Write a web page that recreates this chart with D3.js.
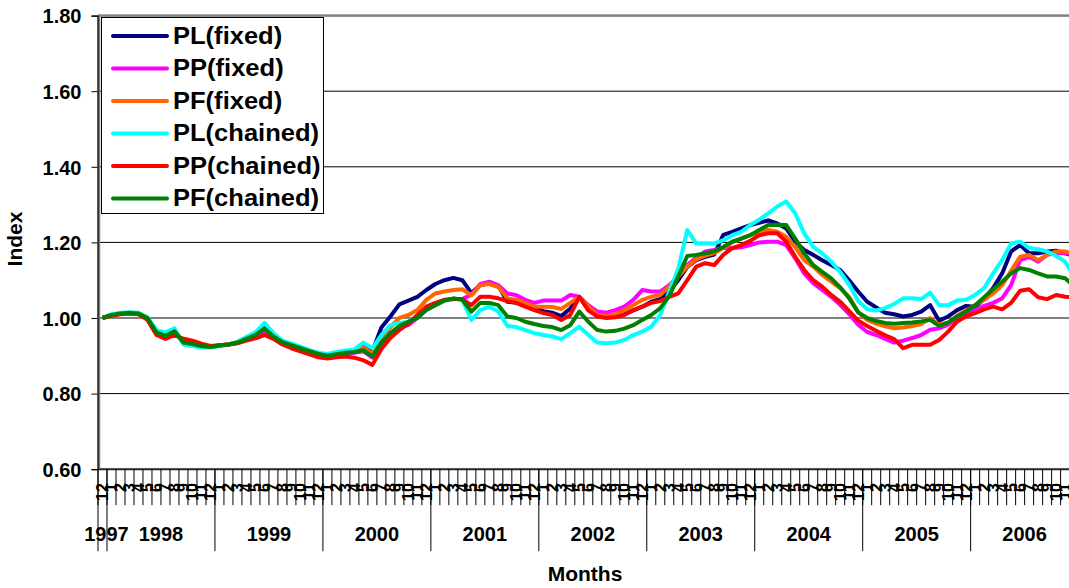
<!DOCTYPE html>
<html>
<head>
<meta charset="utf-8">
<script src="https://cdn.jsdelivr.net/npm/d3@7/dist/d3.min.js"></script>
<style>
  html, body { margin: 0; padding: 0; background: #fff; overflow: hidden; }
  svg { display: block; }
  text { font-family: "Liberation Sans", Arial, sans-serif; font-weight: bold; fill: #000; }
</style>
</head>
<body>
<svg id="chart" width="1069" height="588"></svg>
<script>
// Monthly price indices, Dec 1997 – Dec 2006 (base Dec 1997 = 1.00)
const years = ["1997", "1998", "1999", "2000", "2001", "2002", "2003", "2004", "2005", "2006"];
const yTicks = [0.60, 0.80, 1.00, 1.20, 1.40, 1.60, 1.80];
const seriesNames = ["PL(fixed)", "PP(fixed)", "PF(fixed)", "PL(chained)", "PP(chained)", "PF(chained)"];
const seriesColors = ["#000080", "#FF00FF", "#FF6600", "#00FFFF", "#FF0000", "#008000"];

const plFixed = [1.000, 1.008, 1.012, 1.014, 1.012, 0.998, 0.962, 0.958, 0.968, 0.933, 0.930, 0.926, 0.923,
  0.927, 0.930, 0.935, 0.946, 0.957, 0.975, 0.952, 0.937, 0.928, 0.920, 0.912, 0.905,
  0.902, 0.907, 0.912, 0.915, 0.930, 0.912, 0.975, 1.004, 1.036, 1.046, 1.056, 1.074,
  1.090, 1.100, 1.106, 1.100, 1.066, 1.087, 1.092, 1.085, 1.043, 1.040, 1.032, 1.026,
  1.018, 1.014, 1.005, 1.025, 1.056, 1.030, 1.006, 1.002, 1.003, 1.010, 1.020, 1.030,
  1.043, 1.050, 1.070, 1.100, 1.135, 1.153, 1.162, 1.168, 1.220, 1.228, 1.237, 1.246,
  1.252, 1.258, 1.250, 1.237, 1.202, 1.180, 1.167, 1.153, 1.140, 1.127, 1.100, 1.070,
  1.043, 1.028, 1.014, 1.010, 1.004, 1.008, 1.017, 1.034, 0.993, 1.004, 1.021, 1.032,
  1.030, 1.050, 1.079, 1.118, 1.176, 1.193, 1.171, 1.171, 1.176, 1.178, 1.171, 1.165];

const ppFixed = [1.000, 1.007, 1.011, 1.013, 1.012, 0.998, 0.958, 0.950, 0.962, 0.938, 0.932, 0.927, 0.924,
  0.928, 0.930, 0.934, 0.944, 0.952, 0.965, 0.950, 0.935, 0.926, 0.918, 0.910, 0.902,
  0.898, 0.902, 0.905, 0.908, 0.912, 0.895, 0.930, 0.960, 0.975, 0.981, 1.000, 1.025,
  1.038, 1.047, 1.050, 1.050, 1.062, 1.090, 1.096, 1.087, 1.065, 1.060, 1.048, 1.040,
  1.046, 1.046, 1.046, 1.061, 1.056, 1.034, 1.017, 1.014, 1.021, 1.030, 1.048, 1.074,
  1.070, 1.070, 1.087, 1.110, 1.140, 1.160, 1.176, 1.180, 1.185, 1.185, 1.187, 1.193,
  1.200, 1.202, 1.202, 1.193, 1.158, 1.118, 1.092, 1.074, 1.056, 1.035, 1.010, 0.982,
  0.963, 0.955, 0.945, 0.935, 0.940, 0.947, 0.955, 0.969, 0.973, 0.982, 1.002, 1.013,
  1.021, 1.032, 1.040, 1.052, 1.087, 1.153, 1.162, 1.149, 1.167, 1.171, 1.171, 1.168];

const pfFixed = [1.000, 1.008, 1.012, 1.014, 1.012, 0.999, 0.963, 0.956, 0.966, 0.934, 0.930, 0.926, 0.923,
  0.927, 0.930, 0.935, 0.946, 0.956, 0.973, 0.951, 0.936, 0.927, 0.919, 0.911, 0.904,
  0.901, 0.905, 0.909, 0.912, 0.922, 0.905, 0.950, 0.975, 1.000, 1.008, 1.021, 1.048,
  1.065, 1.070, 1.074, 1.076, 1.060, 1.087, 1.090, 1.082, 1.052, 1.048, 1.040, 1.030,
  1.030, 1.029, 1.024, 1.040, 1.056, 1.030, 1.008, 1.006, 1.010, 1.021, 1.034, 1.048,
  1.056, 1.061, 1.083, 1.110, 1.136, 1.155, 1.165, 1.172, 1.185, 1.200, 1.210, 1.219,
  1.228, 1.233, 1.228, 1.215, 1.188, 1.153, 1.136, 1.114, 1.096, 1.079, 1.056, 1.015,
  0.995, 0.985, 0.978, 0.973, 0.975, 0.979, 0.984, 1.000, 0.982, 0.988, 1.006, 1.020,
  1.034, 1.048, 1.065, 1.087, 1.125, 1.162, 1.167, 1.153, 1.167, 1.176, 1.176, 1.170];

const plChained = [1.000, 1.010, 1.014, 1.015, 1.014, 1.002, 0.968, 0.962, 0.973, 0.930, 0.926, 0.922, 0.922,
  0.926, 0.930, 0.937, 0.950, 0.962, 0.987, 0.960, 0.940, 0.932, 0.924, 0.915, 0.908,
  0.905, 0.910, 0.914, 0.917, 0.935, 0.920, 0.955, 0.981, 0.987, 0.990, 1.004, 1.021,
  1.034, 1.046, 1.050, 1.048, 0.995, 1.021, 1.030, 1.017, 0.979, 0.976, 0.968, 0.960,
  0.955, 0.951, 0.944, 0.960, 0.977, 0.955, 0.935, 0.933, 0.935, 0.942, 0.955, 0.964,
  0.977, 1.008, 1.070, 1.130, 1.233, 1.197, 1.197, 1.197, 1.206, 1.219, 1.228, 1.246,
  1.260, 1.277, 1.295, 1.308, 1.277, 1.224, 1.188, 1.171, 1.149, 1.122, 1.088, 1.045,
  1.023, 1.020, 1.026, 1.037, 1.052, 1.052, 1.050, 1.067, 1.034, 1.034, 1.046, 1.048,
  1.061, 1.079, 1.118, 1.153, 1.197, 1.202, 1.185, 1.182, 1.176, 1.164, 1.149, 1.110];

const ppChained = [1.000, 1.006, 1.010, 1.012, 1.010, 0.995, 0.955, 0.945, 0.955, 0.945, 0.940, 0.932, 0.926,
  0.928, 0.930, 0.933, 0.940, 0.946, 0.955, 0.945, 0.930, 0.920, 0.912, 0.904, 0.896,
  0.893, 0.896, 0.898, 0.895, 0.888, 0.876, 0.918, 0.947, 0.968, 0.985, 1.008, 1.030,
  1.040, 1.048, 1.050, 1.050, 1.034, 1.056, 1.056, 1.052, 1.045, 1.040, 1.030, 1.021,
  1.013, 1.008, 0.995, 1.008, 1.056, 1.020, 1.004, 1.000, 1.002, 1.008, 1.021, 1.030,
  1.040, 1.045, 1.056, 1.065, 1.100, 1.136, 1.145, 1.140, 1.167, 1.185, 1.193, 1.204,
  1.219, 1.224, 1.224, 1.202, 1.162, 1.127, 1.100, 1.083, 1.061, 1.043, 1.018, 0.993,
  0.979, 0.966, 0.954, 0.944, 0.920, 0.929, 0.929, 0.929, 0.942, 0.964, 0.991, 1.004,
  1.013, 1.023, 1.030, 1.023, 1.040, 1.072, 1.076, 1.055, 1.050, 1.061, 1.056, 1.055];

const pfChained = [1.000, 1.008, 1.012, 1.013, 1.012, 1.000, 0.962, 0.953, 0.965, 0.935, 0.931, 0.926, 0.923,
  0.927, 0.930, 0.935, 0.945, 0.955, 0.972, 0.951, 0.936, 0.928, 0.920, 0.912, 0.905,
  0.900, 0.904, 0.908, 0.910, 0.915, 0.898, 0.935, 0.960, 0.979, 0.990, 1.000, 1.021,
  1.034, 1.046, 1.052, 1.048, 1.017, 1.040, 1.040, 1.034, 1.004, 1.000, 0.990, 0.984,
  0.979, 0.976, 0.968, 0.981, 1.017, 0.990, 0.968, 0.964, 0.966, 0.972, 0.981, 0.995,
  1.008, 1.026, 1.058, 1.110, 1.164, 1.167, 1.171, 1.176, 1.188, 1.202, 1.210, 1.219,
  1.233, 1.246, 1.247, 1.246, 1.210, 1.171, 1.140, 1.122, 1.105, 1.081, 1.052, 1.015,
  1.000, 0.992, 0.987, 0.985, 0.987, 0.988, 0.991, 0.995, 0.979, 0.988, 1.004, 1.017,
  1.034, 1.055, 1.076, 1.096, 1.118, 1.132, 1.127, 1.118, 1.110, 1.110, 1.105, 1.085];

const seriesValues = [plFixed, ppFixed, pfFixed, plChained, ppChained, pfChained];

// Category list: December of the base year, then every month of the following years
const categories = years.flatMap((y, k) =>
  (k === 0 ? [12] : d3.range(1, 13)).map(m => ({ year: y, month: m })));

const svg = d3.select("#chart");
const plot = { left: 98, right: 1078.6, top: 15.6, bottom: 469.2 };

const x = d3.scaleBand()
  .domain(d3.range(categories.length))
  .range([plot.left, plot.right])
  .paddingInner(0).paddingOuter(0);
const y = d3.scaleLinear().domain([0.6, 1.8]).range([plot.bottom, plot.top]);
const cx = i => x(i) + x.bandwidth() / 2;

// Gridlines
svg.append("g")
  .selectAll("line")
  .data(yTicks.filter(v => v > 0.6 && v < 1.8))
  .join("line")
  .attr("x1", plot.left).attr("x2", plot.right)
  .attr("y1", d => y(d)).attr("y2", d => y(d))
  .attr("stroke", "#000").attr("stroke-width", 1);

// Plot area border
svg.append("rect")
  .attr("x", plot.left + 1).attr("y", plot.top)
  .attr("width", plot.right - plot.left).attr("height", plot.bottom - plot.top)
  .attr("fill", "none").attr("stroke", "#808080").attr("stroke-width", 2.5);

// Y axis
const yAxis = d3.axisLeft(y).tickValues(yTicks).tickFormat(d3.format(".2f"))
  .tickSize(6).tickPadding(10);
const gy = svg.append("g").attr("transform", `translate(${plot.left - 0.5},0)`).call(yAxis);
gy.select(".domain").attr("stroke", "#000").attr("stroke-width", 1.2);
gy.selectAll(".tick line").attr("stroke", "#000");
gy.selectAll(".tick text")
  .style("font-size", "20px").style("font-weight", "bold")
  .attr("fill", "#000").attr("dy", "0.36em");

// X axis line
svg.append("line")
  .attr("x1", plot.left).attr("x2", plot.right)
  .attr("y1", plot.bottom).attr("y2", plot.bottom)
  .attr("stroke", "#000").attr("stroke-width", 1);

// Month tick marks (category boundaries)
const gx = svg.append("g");
gx.selectAll("line.month")
  .data(d3.range(categories.length + 1))
  .join("line")
  .attr("class", "month")
  .attr("x1", i => i < categories.length ? x(i) : plot.right)
  .attr("x2", i => i < categories.length ? x(i) : plot.right)
  .attr("y1", plot.bottom).attr("y2", plot.bottom + 36)
  .attr("stroke", "#000").attr("stroke-width", 1);

// Month labels, rotated
gx.selectAll("text.month")
  .data(categories)
  .join("text")
  .attr("class", "month")
  .attr("transform", (d, i) => `translate(${cx(i)},${plot.bottom + 14}) rotate(-90)`)
  .attr("text-anchor", "end")
  .attr("dy", "0.36em")
  .style("font-size", "16px")
  .text(d => d.month);

// Year groups
const yearGroups = years.map(yr => {
  const idx = categories.map((c, i) => c.year === yr ? i : -1).filter(i => i >= 0);
  return { year: yr, start: x(idx[0]), end: x(idx[idx.length - 1]) + x.bandwidth() };
});
gx.selectAll("line.year")
  .data(yearGroups)
  .join("line")
  .attr("class", "year")
  .attr("x1", d => d.start).attr("x2", d => d.start)
  .attr("y1", plot.bottom).attr("y2", plot.bottom + 82)
  .attr("stroke", "#000").attr("stroke-width", 1);
gx.selectAll("text.year")
  .data(yearGroups)
  .join("text")
  .attr("class", "year")
  .attr("x", d => (d.start + d.end) / 2 + (d.year === "1997" ? 4 : 0))
  .attr("y", plot.bottom + 72)
  .attr("text-anchor", "middle")
  .style("font-size", "20px")
  .text(d => d.year);

// Axis titles
svg.append("text")
  .attr("x", 585).attr("y", 581)
  .attr("text-anchor", "middle")
  .style("font-size", "21px")
  .text("Months");
svg.append("text")
  .attr("transform", "translate(22,239) rotate(-90)")
  .attr("text-anchor", "middle")
  .style("font-size", "21px")
  .text("Index");

// Series lines
svg.append("clipPath").attr("id", "plotClip")
  .append("rect")
  .attr("x", plot.left).attr("y", plot.top)
  .attr("width", plot.right - plot.left).attr("height", plot.bottom - plot.top);

const line = d3.line().x((d, i) => cx(i)).y(d => y(d));
svg.append("g")
  .attr("clip-path", "url(#plotClip)")
  .selectAll("path")
  .data(seriesValues)
  .join("path")
  .attr("d", d => line(d))
  .attr("fill", "none")
  .attr("stroke", (d, i) => seriesColors[i])
  .attr("stroke-width", 4)
  .attr("stroke-linejoin", "round")
  .attr("stroke-linecap", "butt");

// Legend
const legend = svg.append("g");
legend.append("rect")
  .attr("x", 101.5).attr("y", 17.5)
  .attr("width", 222).attr("height", 196)
  .attr("fill", "#fff").attr("stroke", "#000").attr("stroke-width", 1);
const items = legend.selectAll("g.item")
  .data(seriesNames)
  .join("g")
  .attr("class", "item")
  .attr("transform", (d, i) => `translate(0,${36 + i * 32.5})`);
items.append("line")
  .attr("x1", 113).attr("x2", 167)
  .attr("y1", 0).attr("y2", 0)
  .attr("stroke", (d, i) => seriesColors[i])
  .attr("stroke-width", 4)
  .attr("stroke-linecap", "round");
items.append("text")
  .attr("x", 173).attr("y", 7.5)
  .style("font-size", "23px")
  .text(d => d)
  .each(function () {
    const w = this.getComputedTextLength();
    d3.select(this).attr("textLength", w * 1.11).attr("lengthAdjust", "spacingAndGlyphs");
  });
</script>
</body>
</html>
